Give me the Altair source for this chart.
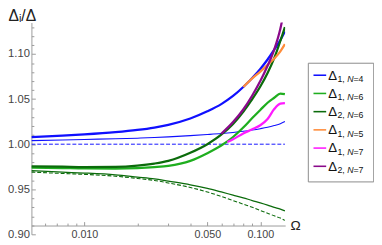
import altair as alt
import pandas as pd

# ---------------- data ----------------
OMEGA = [0.005, 0.0075, 0.01, 0.015, 0.02, 0.025, 0.03, 0.04, 0.05, 0.06,
         0.07, 0.08, 0.09, 0.1, 0.11, 0.12, 0.13, 0.138]

D1_N4 = [1.0078, 1.0094, 1.0108, 1.0133, 1.0158, 1.0185, 1.0215, 1.0285, 1.0365, 1.0445,
         1.0535, 1.0635, 1.0735, 1.0835, 1.094, 1.105, 1.1155, 1.125]
D2_N4 = [1.004, 1.0047, 1.0053, 1.006, 1.0067, 1.0074, 1.0081, 1.0095, 1.0107, 1.0118,
         1.013, 1.0143, 1.0157, 1.0172, 1.0188, 1.0207, 1.0228, 1.0252]
D1_N6 = [0.974, 0.9735, 0.9731, 0.973, 0.9735, 0.9746, 0.976, 0.9815, 0.990, 0.9985,
         1.008, 1.0185, 1.029, 1.038, 1.046, 1.0515, 1.0562, 1.0555]
D2_N6 = [0.9755, 0.975, 0.9746, 0.9748, 0.9762, 0.9785, 0.9815, 0.9905, 1.000, 1.0105,
         1.0225, 1.036, 1.050, 1.064, 1.079, 1.0955, 1.1145, 1.130]
LOW_SOLID = [0.9707, 0.969, 0.968, 0.966, 0.9635, 0.9615, 0.959, 0.955, 0.951, 0.947,
             0.9435, 0.9405, 0.9375, 0.935, 0.9325, 0.930, 0.928, 0.926]
LOW_DASH = [0.969, 0.9675, 0.9665, 0.9645, 0.962, 0.9598, 0.957, 0.952, 0.947, 0.942,
            0.9375, 0.9335, 0.930, 0.9265, 0.9235, 0.9205, 0.918, 0.9155]

REF_OMEGA = [0.005, 0.138]
REF_VAL = [1.0, 1.0]

N5_OMEGA = [0.08, 0.09, 0.1, 0.11, 0.12, 0.13, 0.138]
D1_N5 = [1.0635, 1.073, 1.0805, 1.088, 1.095, 1.103, 1.111]

N7_OMEGA = [0.065, 0.07, 0.08, 0.09, 0.1, 0.11, 0.12, 0.13, 0.138]
D1_N7 = [1.0025, 1.0055, 1.012, 1.0165, 1.021, 1.028, 1.039, 1.045, 1.0455]

P7_OMEGA = [0.06, 0.07, 0.08, 0.09, 0.1, 0.11, 0.12, 0.13, 0.135]
D2_N7 = [1.0115, 1.0245, 1.0385, 1.054, 1.070, 1.087, 1.105, 1.128, 1.1435]

X_TICKS = [0.01, 0.05, 0.1]
X_MINOR = [0.006, 0.007, 0.008, 0.009, 0.02, 0.03, 0.04, 0.06, 0.07, 0.08, 0.09]
Y_TICKS = [0.90, 0.95, 1.00, 1.05, 1.10]
Y_MINOR = [0.91, 0.92, 0.93, 0.94, 0.96, 0.97, 0.98, 0.99, 1.01, 1.02, 1.03, 1.04,
           1.06, 1.07, 1.08, 1.09, 1.11, 1.12, 1.13]

LEG_KEYS = ["a", "b", "c", "d", "e", "f"]
LEG_IDX = ["1,", "1,", "2,", "1,", "1,", "2,"]
LEG_N = ["=4", "=6", "=6", "=5", "=7", "=7"]

BLUE = "#1010ff"
GREEN = "#1fae1f"
DKGREEN = "#0b6b0b"
ORANGE = "#ff8c3a"
MAGENTA = "#ff1aff"
PURPLE = "#8a0a8a"
LEG_COLORS = [BLUE, GREEN, DKGREEN, ORANGE, MAGENTA, PURPLE]

# ---------------- layout ----------------
W, H = 260, 217
PAD = {"left": 24, "top": 12, "right": 91, "bottom": 6}
FONT = "Liberation Sans"
AX = "#9a9a9a"
XOFF = -9

xs = alt.Scale(type="log", domain=[0.005, 0.1385], nice=False)
ys = alt.Scale(domain=[0.90, 1.135], nice=False, zero=False)

x_main = alt.Axis(orient="bottom", values=X_TICKS, format=".3f", offset=XOFF, ticks=False,
                  grid=False, labelPadding=3, labelFontSize=11, labelColor="#444",
                  labelFont=FONT, labelFlush=False, domainColor=AX,
                  title="Ω", titleFont=FONT, titleFontSize=14, titleFontWeight="normal",
                  titleColor="#222", titleAngle=0, titleAlign="left",
                  titleBaseline="middle", titleX=W + 5, titleY=0)
y_main = alt.Axis(orient="left", values=Y_TICKS, format=".2f", ticks=False, grid=False,
                  labelPadding=2, labelFontSize=11.5, labelColor="#444", labelFont=FONT,
                  labelFlush=False, domainColor=AX,
                  title="Δᵢ/Δ", titleFont=FONT, titleFontSize=16, titleFontWeight="normal",
                  titleColor="#222", titleAngle=0, titleAlign="left",
                  titleBaseline="middle", titleX=-24, titleY=-7)


def tick_axis(orient, values, size, offset):
    return alt.Axis(orient=orient, values=values, offset=offset, tickSize=size,
                    tickColor=AX, labels=False, domain=False, grid=False, title=None)


x_major_t = tick_axis("bottom", X_TICKS, 4, XOFF - 4)
x_minor_t = tick_axis("bottom", X_MINOR, 2.5, XOFF - 2.5)
y_major_t = tick_axis("left", Y_TICKS, 4, -4)
y_minor_t = tick_axis("left", Y_MINOR, 2.5, -2.5)


def curve(omega, vals, color, width, dash=None, xa=None, ya=None):
    df = pd.DataFrame({"omega": omega, "value": vals})
    kw = dict(clip=True, interpolate="monotone", color=color, strokeWidth=width)
    if dash:
        kw["strokeDash"] = dash
    return alt.Chart(df).mark_line(**kw).encode(
        x=alt.X("omega:Q", scale=xs, axis=xa),
        y=alt.Y("value:Q", scale=ys, axis=ya),
    )


main = alt.layer(
    curve(REF_OMEGA, REF_VAL, BLUE, 1, [4, 2], x_main, y_main),
    curve(OMEGA, D2_N4, BLUE, 1.1, None, x_major_t, y_major_t),
    curve(OMEGA, LOW_DASH, DKGREEN, 1.1, [4, 2], x_minor_t, y_minor_t),
    curve(OMEGA, LOW_SOLID, DKGREEN, 1.3),
    curve(OMEGA, D1_N4, BLUE, 2.3),
    curve(OMEGA, D1_N6, GREEN, 2.3),
    curve(OMEGA, D2_N6, DKGREEN, 2.3),
    curve(N5_OMEGA, D1_N5, ORANGE, 2.3),
    curve(N7_OMEGA, D1_N7, MAGENTA, 2.3),
    curve(P7_OMEGA, D2_N7, PURPLE, 2.3),
).resolve_axis(x="independent", y="independent")

# ---------------- custom legend (subscripted labels) ----------------
leg_df = pd.DataFrame({"key": LEG_KEYS, "idx": LEG_IDX, "nval": LEG_N})
ly = alt.Y("key:N", sort=LEG_KEYS,
           scale=alt.Scale(type="point", domain=LEG_KEYS, range=[54, 147.3], padding=0),
           axis=None)
lc = alt.Color("key:N", scale=alt.Scale(domain=LEG_KEYS, range=LEG_COLORS), legend=None)

box = alt.Chart(pd.DataFrame({"k": [0]})).mark_rect(
    fill="white", stroke="#8a8a8a", strokeWidth=1
).encode(x=alt.value(283.7), x2=alt.value(350.7), y=alt.value(41.7), y2=alt.value(163.3))

sample = alt.Chart(leg_df).mark_rule(strokeWidth=1.6).encode(
    x=alt.value(289), x2=alt.value(302), y=ly, color=lc)

delta = alt.Chart(leg_df).mark_text(
    text="Δ", align="left", baseline="alphabetic", dy=4.5, fontSize=13.5, font=FONT,
    color="#111"
).encode(x=alt.value(304), y=ly)

sub1 = alt.Chart(leg_df).mark_text(
    align="left", baseline="alphabetic", dy=7, fontSize=9, font=FONT, color="#111"
).encode(x=alt.value(313.5), y=ly, text="idx:N")

subn = alt.Chart(leg_df).mark_text(
    text="N", align="left", baseline="alphabetic", dy=7, fontSize=9, font=FONT,
    fontStyle="italic", color="#111"
).encode(x=alt.value(323.5), y=ly)

sub2 = alt.Chart(leg_df).mark_text(
    align="left", baseline="alphabetic", dy=7, fontSize=9, font=FONT, color="#111"
).encode(x=alt.value(330), y=ly, text="nval:N")

legend = alt.layer(box, sample, delta, sub1, subn, sub2)

chart = alt.layer(main, legend).resolve_scale(
    y="independent", color="independent"
).properties(
    width=W, height=H,
    autosize=alt.AutoSizeParams(type="none"),
    padding=PAD,
).configure_view(stroke=None)

chart.save("out.html", embed_options={"renderer": "svg", "actions": False})
